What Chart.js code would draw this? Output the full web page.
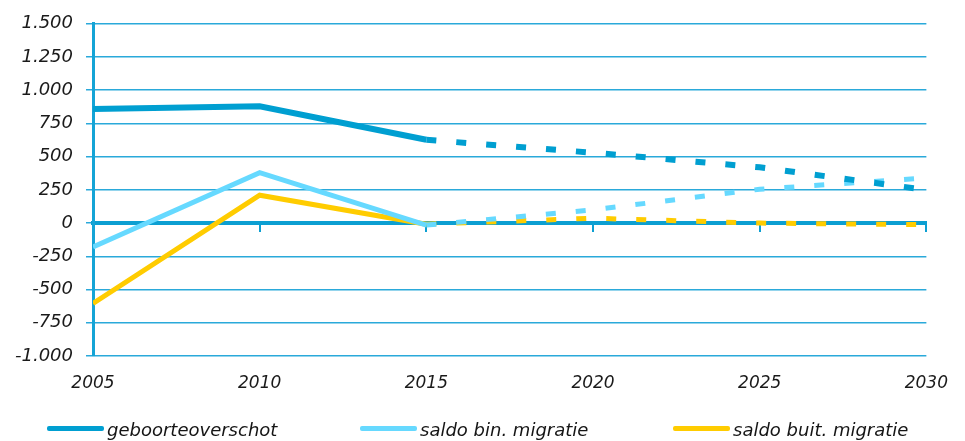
<!DOCTYPE html>
<html lang="nl">
<head>
    <meta charset="UTF-8">
    <title>Geboorteoverschot en migratiesaldo</title>
    <script src="https://cdn.jsdelivr.net/npm/chart.js"></script>
    <style>
        * { margin: 0; padding: 0; box-sizing: border-box; }
        body { background: #fff; font-family: 'DejaVu Sans', Verdana, sans-serif; }
        .wrap { position: relative; width: 965px; height: 441px; }
        .legend { position: absolute; left: 47px; top: 421px; display: flex; }
        .legend .item { flex: 0 0 313px; display: flex; align-items: center; font-size: 18px; line-height: 18px; font-style: italic; color: #151515; white-space: nowrap; }
        .legend .swatch { width: 57px; height: 5px; border-radius: 2px; margin-right: 3px; position: relative; top: -2px; }
    </style>
</head>
<body>
    <div class="wrap">
        <canvas id="chart"></canvas>
        <div class="legend" id="legend"></div>
    </div>

    <script>
        // data (2015 onwards is prognose, drawn dashed)
        const years = [2005, 2010, 2015, 2020, 2025, 2030];
        const geboorteoverschot = [858, 880, 627, 530, 420, 250];
        const saldoBinMigratie = [-180, 380, -15, 100, 255, 340];
        const saldoBuitMigratie = [-605, 210, -8, 37, 0, -12];
        const seriesNames = ['geboorteoverschot', 'saldo bin. migratie', 'saldo buit. migratie'];
        const seriesColors = ['#009fd1', '#66d9ff', '#ffcc00'];
        const prognoseFrom = 2015;

        const font = "'DejaVu Sans', Verdana, sans-serif";

        function nlNumber(v) {
            const s = Math.abs(v).toString().replace(/\B(?=(\d{3})+(?!\d))/g, '.');
            return (v < 0 ? '-' : '') + s;
        }

        function toPoints(values) {
            return years.map((y, i) => ({ x: y, y: values[i] }));
        }

        function makeSet(i, values, width) {
            return {
                label: seriesNames[i],
                data: toPoints(values),
                borderColor: seriesColors[i],
                backgroundColor: seriesColors[i],
                borderWidth: width,
                pointRadius: 0,
                tension: 0,
                xAxisID: 'x',
                segment: {
                    borderDash: ctx => ctx.p0.parsed.x >= prognoseFrom ? [10, 20] : undefined
                }
            };
        }

        const chart = new Chart(document.getElementById('chart'), {
            type: 'line',
            data: {
                datasets: [
                    makeSet(0, geboorteoverschot, 6),
                    makeSet(1, saldoBinMigratie, 5),
                    makeSet(2, saldoBuitMigratie, 5)
                ]
            },
            options: {
                responsive: true,
                maintainAspectRatio: false,
                animation: false,
                layout: { padding: { top: 21, right: 36, left: 0, bottom: 45 } },
                plugins: { legend: { display: false }, tooltip: { enabled: false } },
                scales: {
                    x: {
                        type: 'linear',
                        min: 2005,
                        max: 2030,
                        grid: { display: false, drawTicks: false },
                        border: { display: false },
                        ticks: {
                            stepSize: 5,
                            padding: 17,
                            color: '#1a1a1a',
                            font: { family: font, size: 17, style: 'italic' },
                            callback: v => String(v)
                        },
                        afterFit: s => { s.height = 40; }
                    },
                    // zero line with the little year ticks hanging under it
                    x2: {
                        type: 'linear',
                        position: { y: 0 },
                        min: 2005,
                        max: 2030,
                        ticks: { display: false, stepSize: 5 },
                        grid: { drawOnChartArea: false, drawTicks: true, tickLength: 7, color: '#0c9fd2', lineWidth: 2 },
                        border: { color: '#0c9fd2', width: 4 }
                    },
                    y: {
                        min: -1000,
                        max: 1500,
                        grid: { color: '#2aa9da', lineWidth: 1.5, tickLength: 7 },
                        border: { color: '#14a4d6', width: 3 },
                        ticks: {
                            stepSize: 250,
                            padding: 13,
                            color: '#1a1a1a',
                            font: { family: font, size: 18, style: 'italic' },
                            callback: v => nlNumber(v)
                        },
                        afterFit: s => { s.width = 93; }
                    }
                }
            }
        });

        // html legend built from the datasets
        const legendEl = document.getElementById('legend');
        chart.data.datasets.forEach(ds => {
            const item = document.createElement('div');
            item.className = 'item';
            const sw = document.createElement('span');
            sw.className = 'swatch';
            sw.style.background = ds.borderColor;
            const txt = document.createElement('span');
            txt.textContent = ds.label;
            item.appendChild(sw);
            item.appendChild(txt);
            legendEl.appendChild(item);
        });
    </script>
</body>
</html>
